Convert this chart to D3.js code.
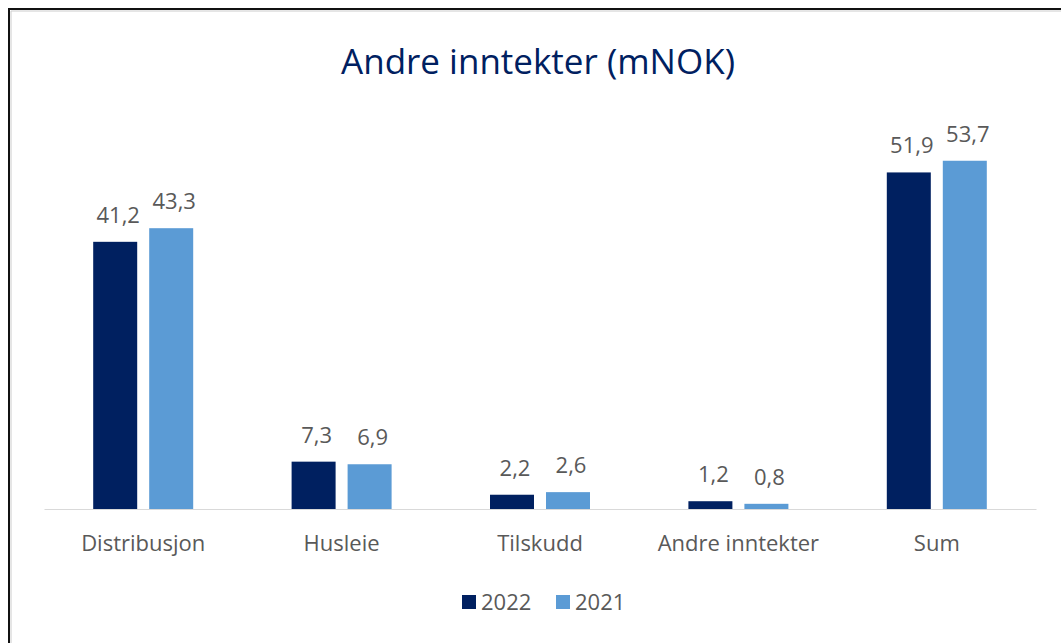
<!DOCTYPE html>
<html>
<head>
<meta charset="utf-8">
<script src="https://cdn.jsdelivr.net/npm/d3@7"></script>
<style>
  body { margin: 0; background: #fff; }
  svg { display: block; font-family: "Open Sans", "Noto Sans", sans-serif; }
</style>
</head>
<body>
<div id="chart"></div>
<script>
const categories = ["Distribusjon", "Husleie", "Tilskudd", "Andre inntekter", "Sum"];
const seriesNames = ["2022", "2021"];
const values2022 = [41.2, 7.3, 2.2, 1.2, 51.9];
const values2021 = [43.3, 6.9, 2.6, 0.8, 53.7];
const colors = ["#002060", "#5b9bd5"];

const W = 1061, H = 643;
const svg = d3.select("#chart").append("svg")
    .attr("width", W)
    .attr("height", H);

// border (only left/top visible in the crop)
svg.append("path")
    .attr("d", `M9,${H} V9 H${W}`)
    .attr("fill", "none")
    .attr("stroke", "#111")
    .attr("stroke-width", 2);
svg.append("path")
    .attr("d", `M11,${H} V11 H${W}`)
    .attr("fill", "none")
    .attr("stroke", "#ccc")
    .attr("stroke-width", 1);

svg.append("text")
    .attr("x", 538)
    .attr("y", 74)
    .attr("text-anchor", "middle")
    .attr("fill", "#002060")
    .style("font-size", "35px")
    .text("Andre inntekter (mNOK)");

const baseY = 509;
const x = d3.scaleBand()
    .domain(categories)
    .range([44, 1036]);

const x1 = d3.scaleBand()
    .domain(seriesNames)
    .range([x.bandwidth() / 2 - 50, x.bandwidth() / 2 + 50])
    .paddingInner(0.2143);

const y = d3.scaleLinear()
    .domain([0, 60])
    .range([baseY, baseY - 60 * 6.485]);

const data = categories.map((c, i) => ({
    cat: c,
    vals: [
        {key: "2022", v: values2022[i]},
        {key: "2021", v: values2021[i]}
    ]
}));

const groups = svg.selectAll("g.grp")
    .data(data)
    .enter()
    .append("g")
    .attr("class", "grp")
    .attr("transform", d => `translate(${x(d.cat)},0)`);

groups.selectAll("rect")
    .data(d => d.vals)
    .enter()
    .append("rect")
    .attr("x", d => x1(d.key))
    .attr("y", d => y(d.v))
    .attr("width", x1.bandwidth())
    .attr("height", d => baseY - y(d.v))
    .attr("fill", (d, i) => colors[i]);

groups.selectAll("text.val")
    .data(d => d.vals)
    .enter()
    .append("text")
    .attr("class", "val")
    .attr("x", d => x1(d.key) + x1.bandwidth() / 2 + 3)
    .attr("y", d => y(d.v) - 19)
    .attr("text-anchor", "middle")
    .attr("fill", "#595959")
    .style("font-size", "22px")
    .text(d => d3.format(".1f")(d.v).replace(".", ","));

// x axis
const axis = svg.append("g")
    .attr("transform", `translate(0,${baseY})`)
    .call(d3.axisBottom(x).tickSize(0).tickPadding(26));
axis.select(".domain").attr("stroke", "#d9d9d9");
axis.selectAll("text")
    .attr("fill", "#595959")
    .style("font-size", "22px")
    .style("font-family", "\"Open Sans\", \"Noto Sans\", sans-serif");

// legend
const legend = svg.append("g").attr("transform", "translate(462,595)");
const items = legend.selectAll("g")
    .data(seriesNames)
    .enter()
    .append("g")
    .attr("transform", (d, i) => `translate(${i * 94},0)`);
items.append("rect")
    .attr("width", 14)
    .attr("height", 14)
    .attr("fill", (d, i) => colors[i]);
items.append("text")
    .attr("x", 19)
    .attr("y", 15)
    .attr("fill", "#595959")
    .style("font-size", "22px")
    .text(d => d);
</script>
</body>
</html>
